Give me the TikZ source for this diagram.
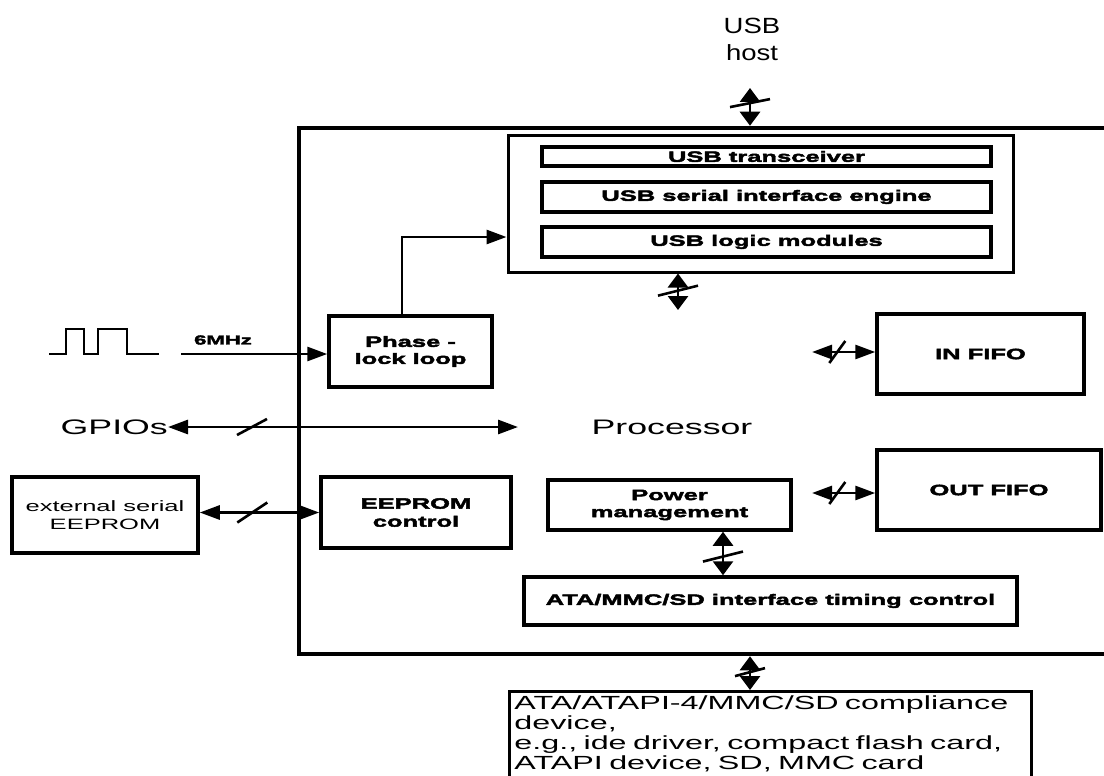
\documentclass[tikz,border=0pt]{standalone}
\usepackage{fontspec}
\setmainfont{Liberation Sans}
\newfontfamily\widesf[FakeStretch=1.7, BoldFeatures={FakeBold=3}]{Liberation Sans}
\newfontfamily\hostsf[FakeStretch=1.25]{Liberation Sans}
\usetikzlibrary{arrows.meta}

\tikzset{
  vtip/.tip={Triangle[length=14pt,width=20pt]},
  htip/.tip={Triangle[length=20pt,width=14pt]},
  blk/.style={draw, line width=3.5pt, inner sep=0pt, align=center,
    font=\widesf\bfseries\fontsize{15}{17}\selectfont},
  txt/.style={font=\widesf\fontsize{#1}{#1}\selectfont, inner sep=0pt, align=center},
  wire/.style={line width=2.8pt},
  hbus/.style={wire, htip-htip},
  vbus/.style={wire, vtip-vtip},
  slash/.style={line width=2.6pt},
}

\begin{document}
\begin{tikzpicture}[x=1pt, y=-1pt]
    \useasboundingbox (0,0) rectangle (1104,776);

    % chip outline, its right side runs off the page
    \node[draw, line width=4.5pt, minimum width=813pt, minimum height=526pt, inner sep=0pt] (chip) at (705.5,391) {};

    \node[txt=22, font=\hostsf\fontsize{22}{27}\selectfont] (host) at (752,39) {USB\\host};

    % USB part
    \node[blk, line width=3pt, minimum width=505pt, minimum height=137pt] (usbbox) at (760.5,203.5) {};
    \node[blk, minimum width=449pt, minimum height=19pt] (trx) at (766.5,156.5) {USB transceiver};
    \node[blk, minimum width=449pt, minimum height=30pt] (sie) at (766.5,197) {USB serial interface engine};
    \node[blk, minimum width=449pt, minimum height=30pt] (logic) at (766.5,242) {USB logic modules};

    \node[blk, minimum width=163pt, minimum height=71pt] (pll) at (410.5,351.5) {Phase -\\lock loop};
    \node[blk, minimum width=207pt, minimum height=80pt] (infifo) at (980.5,354) {IN FIFO};
    \node[blk, minimum width=224pt, minimum height=80pt] (outfifo) at (989,490) {OUT FIFO};
    \node[blk, minimum width=243pt, minimum height=50pt] (power) at (669.5,505) {Power\\management};
    \node[blk, minimum width=493pt, minimum height=48pt] (ata) at (770.5,601) {ATA/MMC/SD interface timing control};
    \node[blk, font=\widesf\bfseries\fontsize{15}{18}\selectfont, minimum width=190pt, minimum height=71pt] (eepctl) at (416,512.5) {EEPROM\\control};
    \node[blk, font=\widesf\fontsize{15}{18}\selectfont, minimum width=186pt, minimum height=76pt] (exteep) at (105,515) {external serial\\EEPROM};

    \node[txt=21] (proc) at (672,427) {Processor};
    \node[txt=21, anchor=east] (gpio) at (168,427) {GPIOs};
    \node[txt=13, font=\widesf\bfseries\fontsize{13}{13}\selectfont] (clk) at (223,340) {6MHz};

    \node[draw, line width=2.8pt, anchor=north west, text width=512pt, inner xsep=5pt, inner ysep=4pt, align=left,
        font=\widesf\fontsize{19}{20}\selectfont] (dev) at (508,690)
        {ATA/ATAPI-4/MMC/SD compliance\\device,\\e.g., ide driver, compact flash card,\\ATAPI device, SD, MMC card\\\mbox{}};

    % clock
    \draw[line width=2.4pt] (49,354) -- (66,354) -- (66,329) -- (84,329) -- (84,354) -- (98,354)
        -- (98,329) -- (127,329) -- (127,354) -- (159,354);
    \coordinate (clkin) at (181,354);
    \draw[wire, -htip] (clkin) -- (clkin -| pll.west);
    \draw[wire, -htip] ([xshift=-8.5pt]pll.north) |- ([yshift=-33.5pt]usbbox.west);

    % buses
    \coordinate (hostend) at (750,88);
    \draw[vbus] (hostend) -- coordinate[pos=0.4] (s1) (hostend |- chip.north);
    \draw[slash] (s1) ++(-20,4) -- ++(40,-8);

    \coordinate (usbpin) at (678,310);
    \draw[vbus] (usbpin |- usbbox.south) -- coordinate[pos=0.47] (s2) (usbpin);
    \draw[slash] (s2) ++(-20,5) -- ++(40,-10);

    \coordinate (gpioend) at (518,427);
    \draw[hbus] (gpio.east) -- coordinate[pos=0.24] (s3) (gpioend);
    \draw[slash] (s3) ++(-15,8) -- ++(30,-16);

    \draw[hbus] (eepctl.west -| exteep.east) -- coordinate[pos=0.44] (s4) (eepctl.west);
    \draw[slash] (s4) ++(-15,10) -- ++(30,-20);

    \coordinate (inpin) at (812,352);
    \draw[hbus] (inpin) -- coordinate[pos=0.4] (s5) (inpin -| infifo.west);
    \draw[slash] (s5) ++(-8,11) -- ++(16,-22);

    \coordinate (outpin) at (812,493);
    \draw[hbus] (outpin) -- coordinate[pos=0.4] (s6) (outpin -| outfifo.west);
    \draw[slash] (s6) ++(-8,11) -- ++(16,-22);

    \coordinate (pwrpin) at ([xshift=53.5pt]power.south);
    \draw[vbus] (pwrpin) -- coordinate[pos=0.57] (s7) (pwrpin |- ata.north);
    \draw[slash] (s7) ++(-20,5) -- ++(40,-10);

    \coordinate (devpin) at (750,690);
    \draw[vbus] (devpin |- chip.south) -- coordinate[pos=0.47] (s8) (devpin);
    \draw[slash] (s8) ++(-15,4) -- ++(30,-8);
\end{tikzpicture}
\end{document}
